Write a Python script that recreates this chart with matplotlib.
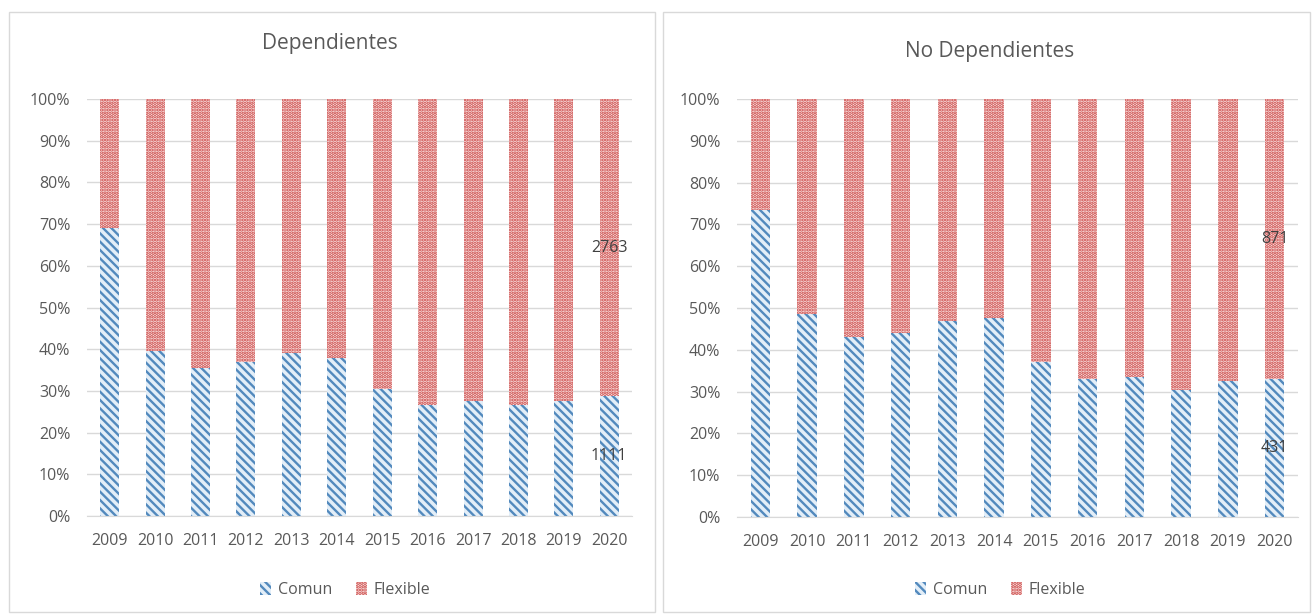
import matplotlib.pyplot as plt
from matplotlib.patches import Rectangle, Patch

# Data (percent of total)
years = ['2009', '2010', '2011', '2012', '2013', '2014',
         '2015', '2016', '2017', '2018', '2019', '2020']
dep_comun = [69.0, 39.5, 35.5, 37.0, 39.0, 38.0, 30.5, 26.5, 27.5, 26.5, 27.5, 28.7]
nodep_comun = [73.5, 48.5, 43.0, 44.0, 47.0, 47.5, 37.0, 33.0, 33.5, 30.5, 32.5, 33.1]
dep_flexible = [100 - v for v in dep_comun]
nodep_flexible = [100 - v for v in nodep_comun]
# counts shown for the last year
dep_labels_2020 = ('1111', '2763')
nodep_labels_2020 = ('431', '871')

plt.rcParams['font.family'] = ['Open Sans', 'DejaVu Sans']
plt.rcParams['hatch.linewidth'] = 1.7

TEXT = '#595959'
BLUE = '#5289bd'
RED = '#c8403e'
PINK = '#fbe4e4'
HATCH_C = '\\' * 4
HATCH_F = '.' * 5
W, H = 1312, 616

fig = plt.figure(figsize=(W / 100, H / 100), dpi=100)


def px(x0, y0, x1, y1):
    # pixel box -> figure fraction [left, bottom, width, height]
    return [x0 / W, 1 - y1 / H, (x1 - x0) / W, (y1 - y0) / H]


def panel(box, border, title, title_xy, comun, flexible, labels, legend_x):
    # panel border
    b = px(*border)
    fig.patches.append(Rectangle((b[0], b[1]), b[2], b[3], transform=fig.transFigure,
                                 fill=False, edgecolor='#d9d9d9', linewidth=1))
    ax = fig.add_axes(px(*box))
    x = range(len(years))
    ax.bar(x, comun, width=0.42, color='#e3eef8', edgecolor=BLUE, hatch=HATCH_C,
           linewidth=0, label='Comun', zorder=2)
    ax.bar(x, flexible, width=0.42, bottom=comun, color=PINK, edgecolor=RED,
           hatch=HATCH_F, linewidth=0, label='Flexible', zorder=2)
    ax.set_xlim(-0.5, len(years) - 0.5)
    ax.set_ylim(0, 100)
    ax.set_yticks(range(0, 101, 10))
    ax.set_yticklabels([f'{v}%' for v in range(0, 101, 10)])
    ax.set_xticks(list(x))
    ax.set_xticklabels(years)
    ax.tick_params(length=0, labelsize=11.5, colors=TEXT)
    ax.tick_params(axis='y', pad=12)
    ax.tick_params(axis='x', pad=12)
    ax.grid(axis='y', color='#d9d9d9', linewidth=1, zorder=0)
    for s in ['top', 'right', 'left']:
        ax.spines[s].set_visible(False)
    ax.spines['bottom'].set_color('#d9d9d9')

    last = len(years) - 1
    ax.text(last, comun[last] / 2, labels[0], ha='center', va='center',
            fontsize=11.5, color='#404040', zorder=3)
    ax.text(last, comun[last] + flexible[last] / 2, labels[1], ha='center', va='center',
            fontsize=11.5, color='#404040', zorder=3)

    fig.text(title_xy[0] / W, 1 - title_xy[1] / H, title, ha='center', va='center',
             fontsize=15, color=TEXT)
    handles = [Patch(facecolor='#e3eef8', edgecolor=BLUE, hatch=HATCH_C, linewidth=0),
               Patch(facecolor=PINK, edgecolor=RED, hatch=HATCH_F, linewidth=0)]
    fig.legend(handles, ['Comun', 'Flexible'], loc='center',
               bbox_to_anchor=(legend_x / W, 1 - 590 / H), ncol=2, frameon=False,
               fontsize=11.5, labelcolor=TEXT, handlelength=0.7, handleheight=0.9,
               handletextpad=0.4, columnspacing=1.5)
    return ax


panel((87, 99, 632, 516), (9, 12, 655, 612), 'Dependientes', (330, 44),
      dep_comun, dep_flexible, dep_labels_2020, 345)
panel((737, 99, 1298, 517), (663, 12, 1310, 612), 'No Dependientes', (990, 52),
      nodep_comun, nodep_flexible, nodep_labels_2020, 1000)

fig.savefig('out.png', dpi=100)
